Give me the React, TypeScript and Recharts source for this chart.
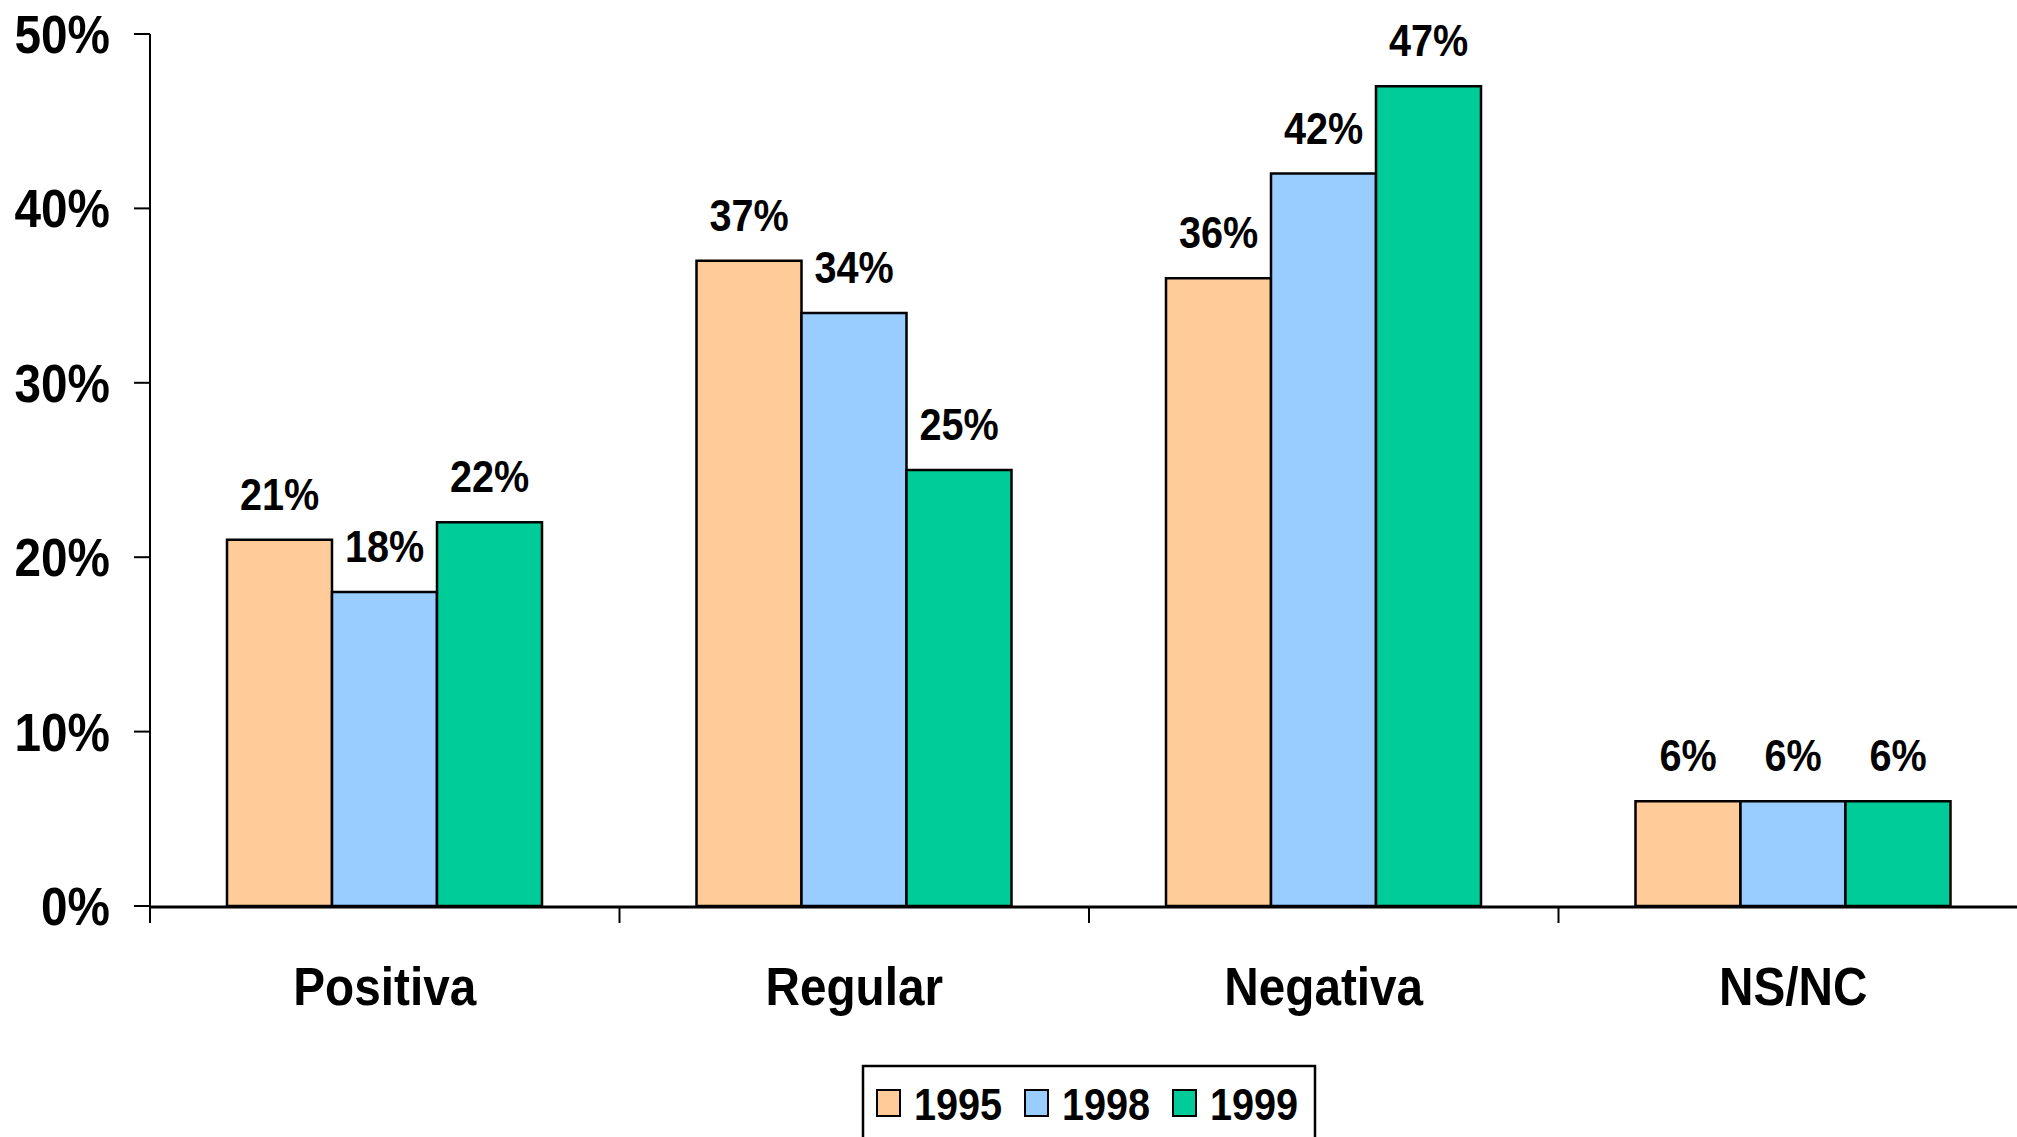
import React from 'react';
import { BarChart, Bar, XAxis, YAxis, Legend, LabelList } from 'recharts';

const categories = ['Positiva', 'Regular', 'Negativa', 'NS/NC'];
const v1995 = [21, 37, 36, 6];
const v1998 = [18, 34, 42, 6];
const v1999 = [22, 25, 47, 6];
const yTicks = [0, 10, 20, 30, 40, 50];
const boundaryTicks = [0, 1, 2, 3, 4];
const seriesKeys = ['s1995', 's1998', 's1999'];
const seriesNames = ['1995', '1998', '1999'];
const colors = ['#FFCC99', '#99CCFF', '#00CC99'];

const data = categories.map((c, i) => ({
  cat: c,
  idx: i,
  s1995: v1995[i],
  s1998: v1998[i],
  s1999: v1999[i],
}));

const FONT = '"Liberation Sans", Arial, Helvetica, sans-serif';
const SX = 0.9;

const YTick = (props: any) => {
  const { x, y, payload } = props;
  return (
    <text
      transform={`translate(${x},${y + 19}) scale(${SX},1)`}
      textAnchor="end"
      fontFamily={FONT}
      fontWeight="bold"
      fontSize={53}
      fill="#000"
    >
      {payload.value}%
    </text>
  );
};

const XTick = (props: any) => {
  const { x, y, payload } = props;
  return (
    <text
      transform={`translate(${x},${y + 99}) scale(${SX},1)`}
      textAnchor="middle"
      fontFamily={FONT}
      fontWeight="bold"
      fontSize={53}
      fill="#000"
    >
      {payload.value}
    </text>
  );
};

const EmptyTick = () => <g />;

const BarLabel = (props: any) => {
  const vb = props.viewBox || props;
  const x = vb.x ?? props.x;
  const y = vb.y ?? props.y;
  const w = vb.width ?? props.width;
  return (
    <text
      transform={`translate(${x + w / 2},${y - 30}) scale(${SX},1)`}
      textAnchor="middle"
      fontFamily={FONT}
      fontWeight="bold"
      fontSize={44}
      fill="#000"
    >
      {props.value}%
    </text>
  );
};

const renderLegend = (props: any) => {
  const payload = props.payload || [];
  return (
    <svg width={456} height={90} style={{ display: 'block', overflow: 'visible' }}>
      <rect x={1} y={1} width={452} height={120} fill="#fff" stroke="#000" strokeWidth={2.5} />
      {payload.map((p: any, i: number) => (
        <g key={i}>
          <rect x={15 + i * 148} y={25} width={23} height={26} fill={p.color} stroke="#000" strokeWidth={2} />
          <text
            transform={`translate(${52 + i * 148},55) scale(${SX},1)`}
            fontFamily={FONT}
            fontWeight="bold"
            fontSize={44}
            fill="#000"
          >
            {p.value}
          </text>
        </g>
      ))}
    </svg>
  );
};

export default function App() {
  return (
    <div
      style={{
        position: 'fixed',
        left: 0,
        top: 0,
        width: 2017,
        height: 1137,
        overflow: 'hidden',
        background: '#fff',
      }}
    >
      <BarChart
        width={2040}
        height={1137}
        data={data}
        margin={{ top: 34, right: 12, bottom: 229, left: 0 }}
        barCategoryGap="16.4%"
        barGap={0}
      >
        <XAxis
          xAxisId="b"
          type="number"
          dataKey="idx"
          domain={[0, 4]}
          ticks={boundaryTicks}
          allowDataOverflow
          interval={0}
          tick={<EmptyTick />}
          tickSize={16}
          height={1}
          axisLine={{ stroke: '#000', strokeWidth: 3 }}
          tickLine={{ stroke: '#000', strokeWidth: 2 }}
        />
        <XAxis
          xAxisId="a"
          dataKey="cat"
          axisLine={false}
          tickLine={false}
          tickSize={0}
          tickMargin={0}
          height={1}
          interval={0}
          tick={<XTick />}
        />
        <YAxis
          type="number"
          domain={[0, 50]}
          ticks={yTicks}
          width={150}
          tickSize={16}
          tickMargin={24}
          interval={0}
          axisLine={{ stroke: '#000', strokeWidth: 2 }}
          tickLine={{ stroke: '#000', strokeWidth: 2 }}
          tick={<YTick />}
        />
        <Legend
          layout="horizontal"
          verticalAlign="middle"
          align="center"
          wrapperStyle={{ top: 1065, left: 862, width: 456, height: 90 }}
          content={renderLegend}
        />
        {seriesKeys.map((k, i) => (
          <Bar
            key={k}
            xAxisId="a"
            dataKey={k}
            name={seriesNames[i]}
            fill={colors[i]}
            stroke="#000"
            strokeWidth={2.5}
            isAnimationActive={false}
          >
            <LabelList dataKey={k} content={<BarLabel />} />
          </Bar>
        ))}
      </BarChart>
    </div>
  );
}
